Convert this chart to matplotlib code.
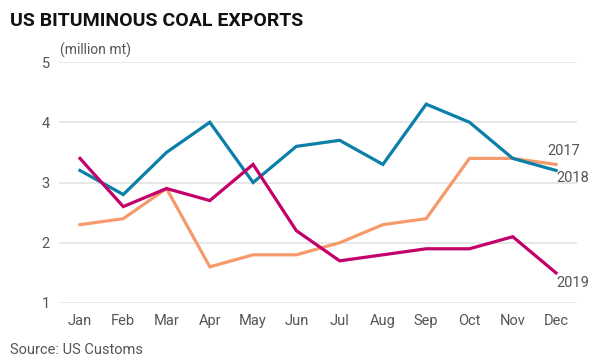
import matplotlib.pyplot as plt

months = ["Jan", "Feb", "Mar", "Apr", "May", "Jun", "Jul", "Aug", "Sep", "Oct", "Nov", "Dec"]
y2017 = [2.3, 2.4, 2.9, 1.6, 1.8, 1.8, 2.0, 2.3, 2.4, 3.4, 3.4, 3.3]
y2018 = [3.2, 2.8, 3.5, 4.0, 3.0, 3.6, 3.7, 3.3, 4.3, 4.0, 3.4, 3.2]
y2019 = [3.4, 2.6, 2.9, 2.7, 3.3, 2.2, 1.7, 1.8, 1.9, 1.9, 2.1, 1.5]

plt.rcParams['font.family'] = ['Roboto', 'DejaVu Sans']

fig = plt.figure(figsize=(6.11, 3.64), dpi=100)
ax = fig.add_axes([59/611, 1 - 303/364, (577 - 59)/611, (303 - 62)/364])

x = range(len(months))
ax.plot(x, y2017, color='#f79a6b', lw=2.3, solid_joinstyle='miter')
ax.plot(x, y2018, color='#0a7fa8', lw=2.3, solid_joinstyle='miter')
ax.plot(x, y2019, color='#c4006a', lw=2.3, solid_joinstyle='miter')

ax.set_xlim(-0.485, 11.485)
ax.set_ylim(1, 5)
ax.set_yticks([1, 2, 3, 4, 5])
ax.set_xticks(list(x))
ax.set_xticklabels(months)
ax.grid(axis='y', color='#e3e3e3', lw=1.2)
ax.set_axisbelow(True)
for s in ax.spines.values():
    s.set_visible(False)
ax.tick_params(length=0, colors='#555555', labelsize=10.5)
ax.tick_params(axis='y', pad=6.5)
ax.tick_params(axis='x', pad=8)

# series labels at the right end
ax.text(11.19, 3.52, "2017", color='#555555', fontsize=10.5, ha='center', va='center')
ax.text(11.39, 3.08, "2018", color='#555555', fontsize=10.5, ha='center', va='center')
ax.text(11.39, 1.33, "2019", color='#555555', fontsize=10.5, ha='center', va='center')

fig.text(10/611, 1 - 21/364, "US BITUMINOUS COAL EXPORTS", fontsize=14, fontweight='bold',
         ha='left', va='center', color='#111111')
fig.text(60/611, 1 - 50/364, "(million mt)", fontsize=10, color='#555555', ha='left', va='center')
fig.text(10/611, 1 - 350/364, "Source: US Customs", fontsize=10.5, color='#555555', ha='left', va='center')

fig.savefig("out.png", dpi=100)
